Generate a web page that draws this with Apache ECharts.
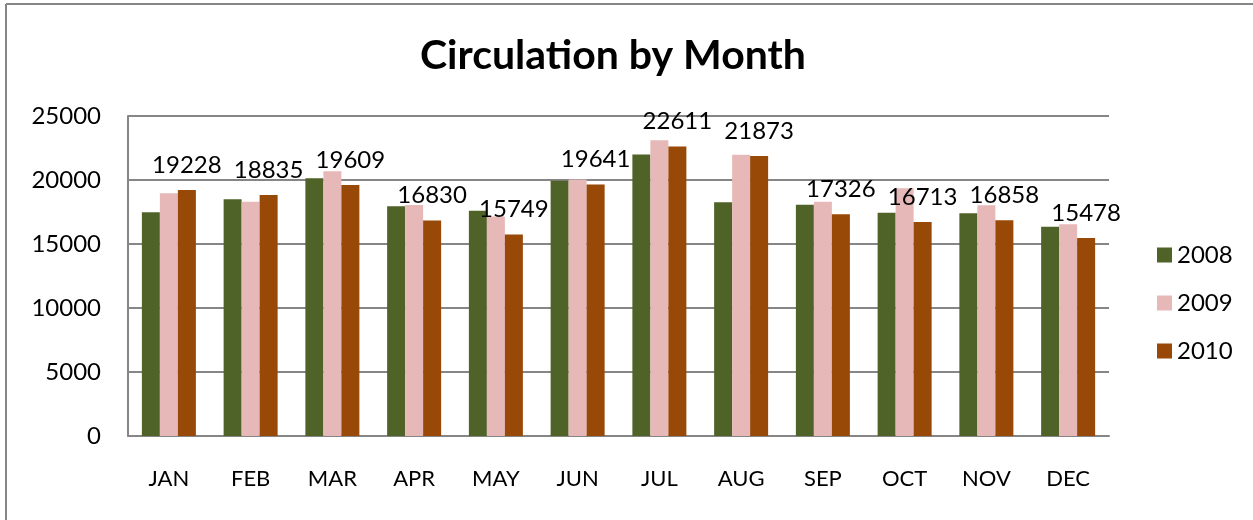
<!DOCTYPE html>
<html>
<head>
<meta charset="utf-8">
<title>Circulation by Month</title>
<script src="https://cdn.jsdelivr.net/npm/echarts@6/dist/echarts.min.js"></script>
<style>
  html, body { margin: 0; padding: 0; background: #fff; overflow: hidden; }
  #main { width: 1253px; height: 520px; }
</style>
</head>
<body>
<div id="main"></div>
<script>
// data
const months = ['JAN', 'FEB', 'MAR', 'APR', 'MAY', 'JUN', 'JUL', 'AUG', 'SEP', 'OCT', 'NOV', 'DEC']
const years = ['2008', '2009', '2010']
const circ2008 = [17480, 18490, 20130, 17940, 17600, 19950, 22000, 18260, 18070, 17450, 17400, 16350]
const circ2009 = [18960, 18310, 20680, 18050, 17140, 20030, 23100, 21980, 18310, 19350, 18020, 16540]
const circ2010 = [19228, 18835, 19609, 16830, 15749, 19641, 22611, 21873, 17326, 16713, 16858, 15478]

const font = 'Lato, "Open Sans", sans-serif'
const grey = '#868686'

const myChart = echarts.init(document.getElementById('main'), null, { renderer: 'canvas' })

myChart.setOption({
  animation: false,
  title: {
    text: 'Circulation by Month',
    left: 608,
    top: 30,
    textAlign: 'center',
    textStyle: { fontFamily: font, fontSize: 41, fontWeight: 'bold', color: '#000' }
  },
  graphic: [
    // chart frame, only the top and left edges are in view
    {
      type: 'line',
      shape: { x1: 6, y1: 4, x2: 1253, y2: 4 },
      style: { stroke: grey, lineWidth: 2 },
      silent: true
    },
    {
      type: 'line',
      shape: { x1: 6, y1: 4, x2: 6, y2: 520 },
      style: { stroke: grey, lineWidth: 2 },
      silent: true
    }
  ],
  legend: {
    orient: 'vertical',
    left: 1152,
    top: 238,
    itemWidth: 15,
    itemHeight: 15,
    itemGap: 24,
    icon: 'rect',
    textStyle: { fontFamily: font, fontSize: 24, color: '#000', lineHeight: 24 },
    data: years
  },
  grid: {
    left: 128,
    right: 144,
    top: 116,
    bottom: 84
  },
  xAxis: {
    type: 'category',
    data: months,
    axisLine: { lineStyle: { color: grey, width: 2 } },
    axisTick: { show: false },
    axisLabel: { fontFamily: font, fontSize: 22, color: '#000', margin: 32 }
  },
  yAxis: {
    type: 'value',
    min: 0,
    max: 25000,
    interval: 5000,
    axisLine: { show: true, lineStyle: { color: grey, width: 2 } },
    axisTick: { show: false },
    splitLine: { lineStyle: { color: grey, width: 2 } },
    axisLabel: {
      fontFamily: font,
      fontSize: 24,
      color: '#000',
      margin: 27,
      formatter: (v) => String(v)
    }
  },
  series: [
    {
      name: years[0],
      type: 'bar',
      data: circ2008,
      barWidth: 18,
      barGap: '0%',
      itemStyle: { color: '#4F6228' }
    },
    {
      name: years[1],
      type: 'bar',
      data: circ2009,
      barWidth: 18,
      barGap: '0%',
      itemStyle: { color: '#E6B9B8' }
    },
    {
      name: years[2],
      type: 'bar',
      data: circ2010,
      barWidth: 18,
      barGap: '0%',
      itemStyle: { color: '#984807' },
      label: {
        show: true,
        position: 'top',
        distance: 13,
        fontFamily: font,
        fontSize: 24,
        color: '#000'
      }
    }
  ]
})
</script>
</body>
</html>
